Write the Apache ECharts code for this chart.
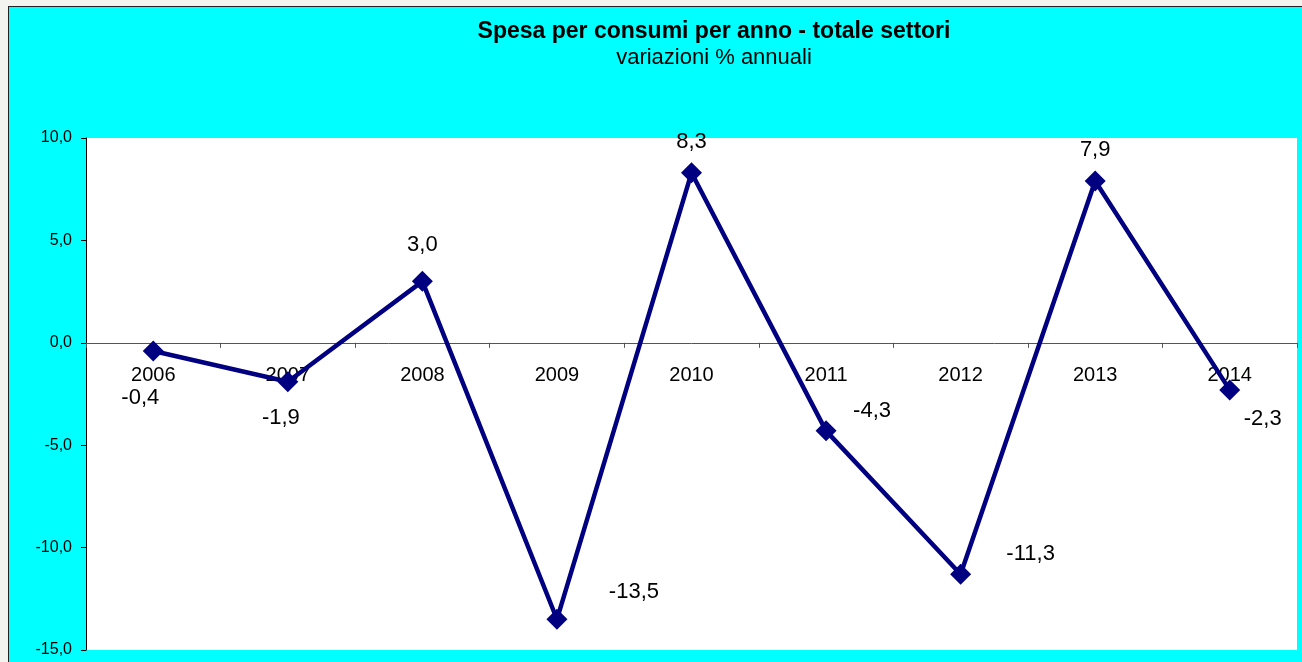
<!doctype html>
<html lang="it">
<head>
<meta charset="utf-8">
<title>Spesa per consumi per anno</title>
<style>
html, body { margin: 0; padding: 0; background: #f3f3ef; }
#chart {
    position: absolute; left: 8px; top: 6px;
    width: 1293px; height: 655px;
    border-left: 1px solid #222; border-top: 1px solid #222;
    background: #00ffff;
}
</style>
</head>
<body>
<div id="chart"></div>
<script src="https://cdn.jsdelivr.net/npm/echarts@6/dist/echarts.min.js"></script>
<script>
// dati
const anni = ['2006', '2007', '2008', '2009', '2010', '2011', '2012', '2013', '2014'];
const variazioni = [-0.4, -1.9, 3.0, -13.5, 8.3, -4.3, -11.3, 7.9, -2.3];
const yMin = -15, yMax = 10, yStep = 5;

// spostamento delle etichette rispetto al marker (solo stile)
const labelOffset = [
    [-13, 47], [-7, 36], [0, -36], [77, -27], [0, -31],
    [46, -20], [70, -20], [0, -31], [33, 29]
];

const virgola = v => v.toFixed(1).replace('.', ',');

// griglia
const gTop = 131, gBottom = 12;
const gHeight = 655 - gTop - gBottom;
// l'asse delle categorie sta sullo zero (in v6 le etichette restano in basso con onZero)
const xOffset = -gHeight * (0 - yMin) / (yMax - yMin);

const chart = echarts.init(document.getElementById('chart'));
chart.setOption({
    animation: false,
    textStyle: { fontFamily: '"Liberation Sans", Arial, sans-serif' },
    title: {
        text: 'Spesa per consumi per anno - totale settori',
        subtext: 'variazioni % annuali',
        left: 700,
        top: 8,
        textAlign: 'center',
        itemGap: 4,
        textStyle: { fontSize: 23, fontWeight: 'bold', color: '#000' },
        subtextStyle: { fontSize: 22, color: '#000' }
    },
    grid: {
        left: 77, top: gTop, right: 5, bottom: gBottom,
        outerBoundsMode: 'none',
        containLabel: false,
        show: true, backgroundColor: '#fff', borderWidth: 0
    },
    xAxis: {
        type: 'category',
        data: anni,
        boundaryGap: true,
        offset: xOffset,
        axisLine: { onZero: false, lineStyle: { color: '#555', width: 1 } },
        axisTick: { show: true, length: 5, inside: false, lineStyle: { color: '#555' } },
        axisLabel: { fontSize: 20, color: '#000', margin: 23, interval: 0 },
        splitLine: { show: false }
    },
    yAxis: {
        type: 'value',
        min: yMin, max: yMax, interval: yStep,
        axisLine: { show: true, onZero: false, lineStyle: { color: '#000', width: 1 } },
        axisTick: { show: true, length: 5, lineStyle: { color: '#000' } },
        axisLabel: { fontSize: 16, color: '#000', margin: 14, formatter: virgola },
        splitLine: { show: false }
    },
    series: [{
        type: 'line',
        data: variazioni.map((v, i) => ({
            value: v,
            label: { offset: labelOffset[i] }
        })),
        symbol: 'diamond',
        symbolSize: 21,
        lineStyle: { color: '#000080', width: 4.5 },
        itemStyle: { color: '#000080' },
        label: {
            show: true,
            position: 'inside',
            fontSize: 22,
            color: '#000',
            formatter: p => virgola(p.value)
        }
    }]
});
</script>
</body>
</html>
